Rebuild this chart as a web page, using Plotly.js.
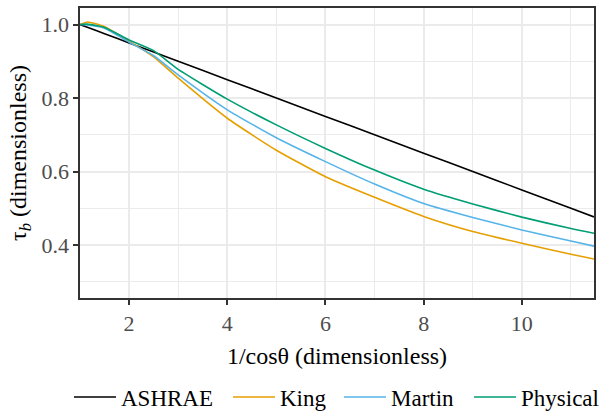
<!DOCTYPE html>
<html>
<head>
<meta charset="utf-8">
<script src="https://cdn.plot.ly/plotly-3.0.1.min.js"></script>
<style>
  html, body { margin: 0; padding: 0; background: #ffffff; }
  #chart { width: 599px; height: 412px; }
</style>
</head>
<body>
<div id="chart"></div>
<script>
// Air mass (1/cos of zenith angle) at which each model is evaluated
const airMass = [1, 1.15, 1.5, 2, 2.5, 3, 4, 5, 6, 7, 8, 9, 10, 11, 11.47];

// Beam transmittance for each model
const ashrae   = [1.000, 0.9925, 0.975, 0.950, 0.925, 0.900, 0.850, 0.800, 0.750, 0.700, 0.650, 0.600, 0.550, 0.500, 0.4765];
const king     = [1.000, 1.007, 0.994, 0.955, 0.912, 0.854, 0.745, 0.658, 0.586, 0.530, 0.478, 0.437, 0.405, 0.375, 0.362];
const martin   = [1.000, 0.999, 0.990, 0.952, 0.915, 0.863, 0.768, 0.692, 0.627, 0.566, 0.513, 0.475, 0.441, 0.411, 0.397];
const physical = [1.000, 1.001, 0.992, 0.958, 0.929, 0.878, 0.797, 0.727, 0.663, 0.604, 0.552, 0.512, 0.476, 0.445, 0.432];

const seriesNames  = ['ASHRAE', 'King', 'Martin', 'Physical'];
const seriesValues = [ashrae, king, martin, physical];
const seriesColors = ['#000000', '#E69F00', '#56B4E9', '#009E73'];

const xTicks = [2, 4, 6, 8, 10];
const yTicks = [0.4, 0.6, 0.8, 1.0];

const FONT = 'Liberation Serif, Times New Roman, serif';
const TICK_SIZE = 22;
const TEXT_SIZE = 24;
const KEY_SIZE = 23;

const W = 599, H = 412;

// One single-entry legend per series so the key row sits on one line
const legendIds = ['legend', 'legend2', 'legend3', 'legend4'];
const keyLeft = [69, 228, 339, 469];   // px, left edge of each key entry

const traces = seriesNames.map((name, i) => ({
  type: 'scatter',
  mode: 'lines',
  name: name,
  legend: legendIds[i],
  x: airMass,
  y: seriesValues[i],
  line: { color: seriesColors[i], width: 1.6, shape: 'spline', smoothing: 0.5 },
  hoverinfo: 'skip'
}));

const axisCommon = {
  showline: true,
  mirror: true,
  linecolor: '#333333',
  linewidth: 1.6,
  ticks: 'outside',
  ticklen: 5,
  tickwidth: 2,
  tickcolor: '#333333',
  showgrid: true,
  gridcolor: '#EBEBEB',
  gridwidth: 2,
  zeroline: false,
  tickfont: { family: FONT, size: TICK_SIZE, color: '#4D4D4D' }
};

const layout = {
  width: W,
  height: H,
  margin: { l: 80, r: 5, t: 8, b: 114, autoexpand: false },
  paper_bgcolor: '#ffffff',
  plot_bgcolor: '#ffffff',
  font: { family: FONT, size: TEXT_SIZE, color: '#000000' },
  showlegend: true,
  xaxis: Object.assign({}, axisCommon, {
    range: [1, 11.47],
    tickmode: 'array',
    tickvals: xTicks,
    ticktext: xTicks.map(String),
    minor: { dtick: 1, tick0: 1, showgrid: true, gridcolor: '#EBEBEB', gridwidth: 1, ticks: '' },
    title: { text: '1/cosθ (dimensionless)', font: { family: FONT, size: TEXT_SIZE, color: '#000000' }, standoff: 12 }
  }),
  yaxis: Object.assign({}, axisCommon, {
    range: [0.256, 1.045],
    tickmode: 'array',
    tickvals: yTicks,
    ticktext: yTicks.map(v => v.toFixed(1)),
    minor: { dtick: 0.1, tick0: 0, showgrid: true, gridcolor: '#EBEBEB', gridwidth: 1, ticks: '' },
    title: { text: 'τ<sub><i>b</i></sub> (dimensionless)', font: { family: FONT, size: TEXT_SIZE, color: '#000000' }, standoff: 8 }
  })
};

legendIds.forEach((id, i) => {
  layout[id] = {
    orientation: 'h',
    xref: 'container', yref: 'container',
    x: keyLeft[i] / W, xanchor: 'left',
    y: 1 - 397 / H, yanchor: 'middle',
    itemwidth: 42,
    font: { family: FONT, size: KEY_SIZE, color: '#000000' },
    bgcolor: 'rgba(0,0,0,0)'
  };
});

Plotly.newPlot('chart', traces, layout, { displayModeBar: false, staticPlot: true });
</script>
</body>
</html>
